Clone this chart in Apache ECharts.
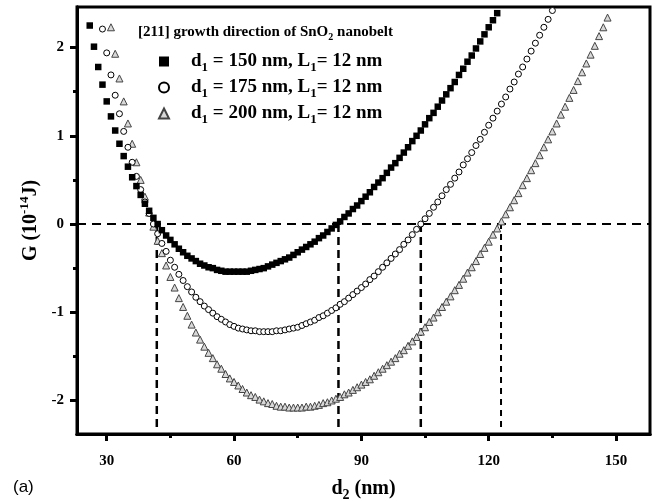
<!DOCTYPE html>
<html>
<head>
<meta charset="utf-8">
<script src="https://cdn.jsdelivr.net/npm/echarts@6/dist/echarts.min.js"></script>
<style>
html, body { margin: 0; padding: 0; background: #fff; }
#chart { width: 659px; height: 501px; }
</style>
</head>
<body>
<div id="chart"></div>
<script>
// d2 of the first point of each set, points are 1 nm apart
var squareStart = 26;
var squareG = [2.25,2.01,1.78,1.58,1.39,1.22,1.06,0.91,0.77,0.65,
	0.53,0.43,0.33,0.23,0.15,0.07,0.00,-0.07,-0.13,-0.18,
	-0.23,-0.28,-0.32,-0.36,-0.39,-0.42,-0.45,-0.47,-0.49,-0.50,
	-0.52,-0.53,-0.54,-0.54,-0.54,-0.54,-0.54,-0.54,-0.53,-0.52,
	-0.51,-0.50,-0.48,-0.46,-0.44,-0.42,-0.40,-0.38,-0.35,-0.32,
	-0.29,-0.26,-0.23,-0.20,-0.16,-0.13,-0.09,-0.05,-0.01,0.03,
	0.08,0.12,0.17,0.21,0.26,0.31,0.36,0.42,0.47,0.52,
	0.58,0.64,0.69,0.75,0.81,0.87,0.94,1.00,1.06,1.13,
	1.20,1.26,1.33,1.40,1.47,1.54,1.61,1.69,1.76,1.84,
	1.91,1.99,2.07,2.15,2.23,2.31,2.39];

var circleStart = 29;
var circleG = [2.21,1.94,1.69,1.46,1.25,1.05,0.87,0.70,0.54,0.39,
	0.25,0.12,0.00,-0.11,-0.22,-0.31,-0.41,-0.49,-0.57,-0.64,
	-0.71,-0.77,-0.83,-0.88,-0.93,-0.97,-1.01,-1.05,-1.08,-1.11,
	-1.14,-1.16,-1.18,-1.19,-1.20,-1.21,-1.21,-1.22,-1.22,-1.22,
	-1.22,-1.21,-1.21,-1.20,-1.19,-1.18,-1.17,-1.15,-1.13,-1.11,
	-1.09,-1.06,-1.04,-1.01,-0.98,-0.95,-0.91,-0.88,-0.84,-0.80,
	-0.76,-0.72,-0.68,-0.63,-0.59,-0.54,-0.49,-0.44,-0.39,-0.34,
	-0.29,-0.23,-0.18,-0.12,-0.06,0.00,0.06,0.12,0.19,0.25,
	0.32,0.39,0.45,0.52,0.59,0.67,0.74,0.81,0.89,0.96,
	1.04,1.12,1.20,1.28,1.36,1.44,1.53,1.61,1.70,1.78,
	1.87,1.96,2.05,2.14,2.23,2.32,2.42];

var triangleStart = 31;
var triangleG = [2.23,1.93,1.65,1.39,1.14,0.91,0.70,0.50,0.31,0.13,
	-0.03,-0.19,-0.33,-0.47,-0.60,-0.72,-0.84,-0.94,-1.04,-1.14,
	-1.23,-1.31,-1.39,-1.46,-1.52,-1.59,-1.64,-1.70,-1.75,-1.79,
	-1.83,-1.87,-1.91,-1.94,-1.96,-1.99,-2.01,-2.03,-2.04,-2.06,
	-2.07,-2.07,-2.08,-2.08,-2.08,-2.08,-2.07,-2.07,-2.06,-2.05,
	-2.03,-2.02,-2.00,-1.98,-1.96,-1.93,-1.91,-1.88,-1.85,-1.82,
	-1.79,-1.76,-1.72,-1.68,-1.64,-1.60,-1.56,-1.52,-1.47,-1.43,
	-1.38,-1.33,-1.28,-1.22,-1.17,-1.11,-1.06,-1.00,-0.94,-0.88,
	-0.82,-0.75,-0.69,-0.62,-0.55,-0.49,-0.42,-0.34,-0.27,-0.20,
	-0.12,-0.05,0.03,0.11,0.19,0.27,0.35,0.44,0.52,0.61,
	0.69,0.78,0.87,0.96,1.05,1.14,1.24,1.33,1.43,1.52,
	1.62,1.72,1.82,1.92,2.02,2.13,2.23,2.34];

// d2 where the curves cross G = 0 (dashed guide lines)
var crossings = [41.8, 84.6, 104.0, 122.9];
var guideBottom = -2.3;

var d1Values = [150, 175, 200];
var L1 = 12;

var xMin = 23, xMax = 158;
var yMin = -2.38, yMax = 2.46;
var xMajor = [30, 60, 90, 120, 150];
var xMinor = [45, 75, 105, 135];
var yMajor = [-2, -1, 0, 1, 2];
var yMinor = [-1.5, -0.5, 0.5, 1.5];

var serif = "'Liberation Serif', 'Times New Roman', serif";

function toPoints(start, values) {
	return values.map(function (g, i) {
		return [start + i, g];
	});
}

function seriesName(d1) {
	return 'd1 = ' + d1 + ' nm, L1= ' + L1 + ' nm';
}

var names = d1Values.map(seriesName);

var labelStyle = {
	fontFamily: serif,
	fontWeight: 'bold',
	fontSize: 15,
	color: '#000'
};

function mainAxis(pos, min, max, major, margin, extra) {
	var axis = {
		type: 'value',
		position: pos,
		min: min,
		max: max,
		axisLine: { show: true, onZero: false, lineStyle: { color: '#000', width: 3 } },
		axisTick: { show: true, customValues: major, length: 7, lineStyle: { color: '#000', width: 3 } },
		axisLabel: Object.assign({ customValues: major, margin: margin }, labelStyle),
		splitLine: { show: false }
	};
	return Object.assign(axis, extra);
}

function minorAxis(pos, min, max, minor) {
	return {
		type: 'value',
		position: pos,
		min: min,
		max: max,
		axisLine: { show: true, onZero: false, lineStyle: { color: '#000', width: 3 } },
		axisTick: { show: true, customValues: minor, length: 4, lineStyle: { color: '#000', width: 3 } },
		axisLabel: { show: false },
		splitLine: { show: false }
	};
}

var series = [];

// drawing order: triangles, circles, squares on top
series.push({
	name: names[2],
	type: 'scatter',
	symbol: 'triangle',
	symbolSize: 7,
	itemStyle: { color: '#d8d8d8', borderColor: '#444', borderWidth: 1, opacity: 1 },
	data: toPoints(triangleStart, triangleG),
	z: 3
});
series.push({
	name: names[1],
	type: 'scatter',
	symbol: 'circle',
	symbolSize: 6,
	itemStyle: { color: '#fff', borderColor: '#000', borderWidth: 1, opacity: 1 },
	data: toPoints(circleStart, circleG),
	z: 4
});
series.push({
	name: names[0],
	type: 'scatter',
	symbol: 'rect',
	symbolSize: 6.5,
	itemStyle: { color: '#000', opacity: 1 },
	data: toPoints(squareStart, squareG),
	z: 5
});

// G = 0 line
series.push({
	type: 'line',
	silent: true,
	symbol: 'none',
	data: [[xMin, 0], [xMax, 0]],
	lineStyle: { color: '#000', width: 2, type: [9, 6] },
	z: 2
});

crossings.forEach(function (x, i) {
	series.push({
		type: 'line',
		silent: true,
		symbol: 'none',
		data: [[x, guideBottom], [x, 0]],
		lineStyle: { color: '#000', width: i === 3 ? 2 : 2.5, type: i === 3 ? [6, 5] : [8, 5] },
		z: 2
	});
});

var chart = echarts.init(document.getElementById('chart'), null, { renderer: 'canvas' });

chart.setOption({
	animation: false,
	backgroundColor: '#fff',
	grid: {
		left: 77,
		right: 9,
		top: 7,
		bottom: 67,
		outerBoundsMode: 'none',
		containLabel: false,
		show: true,
		borderColor: '#000',
		borderWidth: 3
	},
	xAxis: [
		mainAxis('bottom', xMin, xMax, xMajor, 20, {
			name: 'd{sub|2} (nm)',
			nameLocation: 'middle',
			nameGap: 42,
			nameTextStyle: {
				fontFamily: serif,
				fontWeight: 'bold',
				fontSize: 20,
				color: '#000',
				rich: {
					sub: { fontFamily: serif, fontWeight: 'bold', fontSize: 14, padding: [12, 0, 0, 0] }
				}
			}
		}),
		minorAxis('bottom', xMin, xMax, xMinor)
	],
	yAxis: [
		mainAxis('left', yMin, yMax, yMajor, 13, {
			name: 'G (10{sup|-14}J)',
			nameLocation: 'middle',
			nameRotate: 90,
			nameGap: 28,
			nameTextStyle: {
				fontFamily: serif,
				fontWeight: 'bold',
				fontSize: 20,
				color: '#000',
				rich: {
					sup: { fontFamily: serif, fontWeight: 'bold', fontSize: 13, padding: [0, 0, 12, 0] }
				}
			}
		}),
		minorAxis('left', yMin, yMax, yMinor)
	],
	legend: {
		data: names,
		orient: 'vertical',
		left: 153,
		top: 47,
		itemWidth: 10,
		itemHeight: 10,
		itemGap: 4,
		selectedMode: false,
		formatter: function (name) {
			var d1 = name.split(' ')[2];
			return '{g|}{n|d}{s|1}{n| = ' + d1 + ' nm, L}{s|1}{n|= ' + L1 + ' nm}';
		},
		textStyle: {
			fontFamily: serif,
			fontWeight: 'bold',
			fontSize: 19,
			color: '#000',
			rich: {
				g: { width: 17 },
				n: { fontFamily: serif, fontWeight: 'bold', fontSize: 19, color: '#000' },
				s: { fontFamily: serif, fontWeight: 'bold', fontSize: 13, color: '#000', padding: [12, 0, 0, 0] }
			}
		}
	},
	graphic: [
		{
			type: 'text',
			left: 138,
			top: 25,
			style: {
				text: '[211] growth direction of SnO{s|2} nanobelt',
				fill: '#000',
				font: 'bold 15px ' + serif,
				rich: {
					s: { fontFamily: serif, fontWeight: 'bold', fontSize: 10, fill: '#000', padding: [9, 0, 0, 0] }
				}
			}
		},
		{
			type: 'text',
			left: 13,
			top: 479,
			style: {
				text: '(a)',
				fill: '#000',
				font: '17px "Liberation Sans", Arial, sans-serif'
			}
		}
	],
	series: series
});
</script>
</body>
</html>
